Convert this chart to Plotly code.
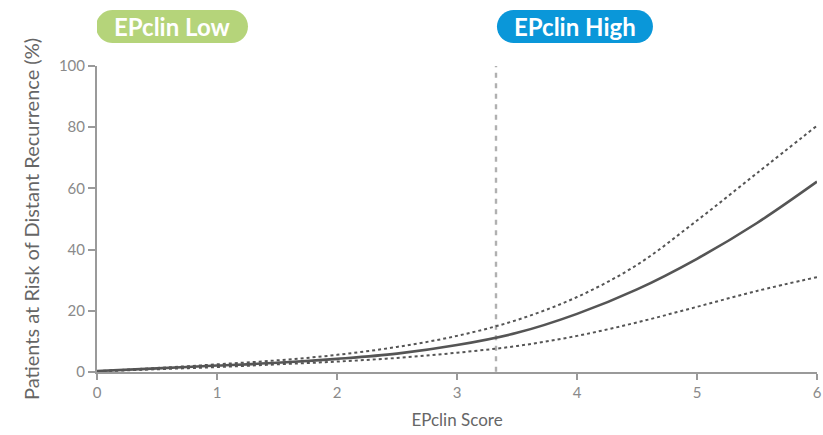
import plotly.graph_objects as go

# Data
score = [0, 0.5, 1, 1.5, 2, 2.5, 3, 3.5, 4, 4.5, 5, 5.5, 6]
risk_mean = [0.3, 1.2, 2.1, 3.0, 4.3, 6.0, 8.8, 12.8, 19.0, 27.0, 37.0, 48.7, 62.2]
risk_upper = [0.3, 1.3, 2.5, 3.8, 5.6, 8.2, 11.8, 17.0, 24.5, 35.0, 49.5, 65.0, 80.5]
risk_lower = [0.2, 0.9, 1.6, 2.5, 3.4, 4.6, 6.3, 8.5, 11.8, 16.2, 21.3, 26.5, 31.0]
cutoff = 3.325
x_ticks = [0, 1, 2, 3, 4, 5, 6]
y_ticks = [0, 20, 40, 60, 80, 100]
group_labels = ["EPclin Low", "EPclin High"]
group_centers = [0.625, 3.983]
group_colors = ["#b5d47a", "#0a97d9"]
group_halfwidths = [76, 78]

FONT = "Lato"
fig = go.Figure()

fig.add_trace(go.Scatter(x=score, y=risk_upper, mode="lines", line=dict(color="#555555", width=2, dash="dot", shape="spline"), hoverinfo="skip"))
fig.add_trace(go.Scatter(x=score, y=risk_lower, mode="lines", line=dict(color="#555555", width=2, dash="dot", shape="spline"), hoverinfo="skip"))
fig.add_trace(go.Scatter(x=score, y=risk_mean, mode="lines", line=dict(color="#555555", width=2.6, shape="spline"), hoverinfo="skip"))

fig.add_shape(type="line", x0=cutoff, x1=cutoff, y0=101.2, y1=0, xref="x", yref="y",
              line=dict(color="#b0b0b0", width=2.4, dash="5px,5.5px"), layer="below")

def pill(hw, h=16.5):
    k = 0.5523 * h
    a = hw - h
    return (f"M {-a},{-h} L {a},{-h} "
            f"C {a + k},{-h} {hw},{-k} {hw},0 "
            f"C {hw},{k} {a + k},{h} {a},{h} "
            f"L {-a},{h} "
            f"C {-a - k},{h} {-hw},{k} {-hw},0 "
            f"C {-hw},{-k} {-a - k},{-h} {-a},{-h} Z")

for lab, cx, col, hw in zip(group_labels, group_centers, group_colors, group_halfwidths):
    fig.add_shape(type="path", xref="x", yref="paper", xsizemode="pixel", ysizemode="pixel",
                  xanchor=cx, yanchor=1.129, path=pill(hw), fillcolor=col, line=dict(width=0))
    fig.add_annotation(x=cx, y=1.129, xref="x", yref="paper", text=f"<b>{lab}</b>", showarrow=False,
                       font=dict(family=FONT, size=24, color="white"), xanchor="center", yanchor="middle")

fig.update_layout(
    width=823, height=435, showlegend=False,
    margin=dict(l=97, r=6, t=66, b=63),
    plot_bgcolor="white", paper_bgcolor="white",
    font=dict(family=FONT, color="#888888"),
    xaxis=dict(range=[0, 6], tickvals=x_ticks, showgrid=False, zeroline=False, automargin=False,
               showline=True, linecolor="#9a9a9a", linewidth=2,
               ticks="outside", ticklen=6, tickwidth=2, tickcolor="#9a9a9a",
               tickfont=dict(size=15, color="#8a8a8a"),
               title=dict(text="EPclin Score", font=dict(size=17, color="#666666"), standoff=14)),
    yaxis=dict(range=[0, 100], tickvals=y_ticks, showgrid=False, zeroline=False, automargin=False,
               showline=True, linecolor="#9a9a9a", linewidth=2,
               ticks="outside", ticklen=7, tickwidth=2, tickcolor="#9a9a9a",
               tickfont=dict(size=15, color="#8a8a8a"),
               title=dict(text="Patients at Risk of Distant Recurrence (%)", font=dict(size=20, color="#666666"), standoff=14)),
)

fig.write_html("out.html", config={"displayModeBar": False},
               post_script="document.body.style.margin='0';")
